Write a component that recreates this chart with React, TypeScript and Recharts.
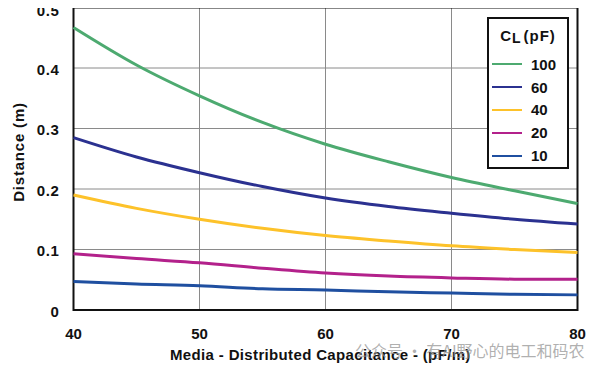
import {
  LineChart,
  Line,
  XAxis,
  YAxis,
  CartesianGrid,
  ReferenceArea,
} from "recharts";

// Media-distributed capacitance, pF/m
const CAPACITANCE = [40, 45, 50, 55, 60, 65, 70, 75, 80];

// Distance (m) for each load capacitance CL
const CL_100 = [0.467, 0.405, 0.354, 0.31, 0.274, 0.245, 0.219, 0.197, 0.176];
const CL_60 = [0.285, 0.253, 0.227, 0.204, 0.185, 0.171, 0.16, 0.15, 0.142];
const CL_40 = [0.19, 0.168, 0.15, 0.135, 0.123, 0.114, 0.106, 0.1, 0.095];
const CL_20 = [0.093, 0.085, 0.078, 0.069, 0.061, 0.056, 0.053, 0.051, 0.051];
const CL_10 = [0.047, 0.043, 0.04, 0.035, 0.033, 0.03, 0.028, 0.026, 0.025];

const X_TICKS = [40, 50, 60, 70, 80];
const Y_TICKS = [0, 0.1, 0.2, 0.3, 0.4, 0.5];

const SERIES = [
  { key: "cl100", name: "100", color: "#4DAA70", values: CL_100 },
  { key: "cl60", name: "60", color: "#2B3190", values: CL_60 },
  { key: "cl40", name: "40", color: "#FDC22A", values: CL_40 },
  { key: "cl20", name: "20", color: "#B3218B", values: CL_20 },
  { key: "cl10", name: "10", color: "#1F4FA0", values: CL_10 },
];

const data = CAPACITANCE.map((c, i) => {
  const row: Record<string, number> = { c };
  SERIES.forEach((s) => {
    row[s.key] = s.values[i];
  });
  return row;
});

const FONT = "'Liberation Sans', Arial, sans-serif";

function YTick({ x, y, payload }: { x?: number; y?: number; payload?: { value: number } }) {
  const v = payload?.value ?? 0;
  return (
    <text
      x={x}
      y={(y ?? 0) + 1.5}
      dy="0.355em"
      textAnchor="end"
      fontSize={15}
      fontWeight={700}
      fill="#111"
      fontFamily={FONT}
      style={{ letterSpacing: 0.6 }}
    >
      {v === 0 ? "0" : v.toFixed(1)}
    </text>
  );
}

function CapLegend() {
  return (
    <div
      style={{
        position: "absolute",
        left: 487,
        top: 17,
        width: 82,
        height: 152,
        border: "2px solid #111",
        background: "#fff",
        boxSizing: "border-box",
        fontFamily: FONT,
        fontWeight: 700,
        color: "#111",
        paddingTop: 8,
      }}
    >
      <div style={{ fontSize: 15, textAlign: "center", letterSpacing: 1, marginBottom: 9 }}>
        C<span style={{ fontSize: 14, position: "relative", top: 2 }}>L</span>
        <span style={{ marginLeft: 2 }}>(pF)</span>
      </div>
      {SERIES.map((s) => (
        <div
          key={s.key}
          style={{ display: "flex", alignItems: "center", height: 22.8, fontSize: 15 }}
        >
          <span
            style={{
              display: "inline-block",
              width: 30,
              height: 2,
              marginLeft: 3,
              marginRight: 9,
              background: s.color,
            }}
          />
          <span>{s.name}</span>
        </div>
      ))}
    </div>
  );
}

export default function App() {
  return (
    <div style={{ position: "relative", width: 605, height: 375, margin: -8, background: "#fff" }}>
      <LineChart
        width={605}
        height={375}
        data={data}
        margin={{ top: 7.5, right: 27.5, left: 13.5, bottom: 35 }}
      >
        <CartesianGrid stroke="#8a8a8a" strokeWidth={1} />
        <XAxis
          dataKey="c"
          type="number"
          domain={[40, 80]}
          ticks={X_TICKS}
          axisLine={false}
          tickLine={false}
          height={30}
          tickMargin={12}
          tick={{ fontSize: 15, fontWeight: 700, fill: "#111", fontFamily: FONT }}
        />
        <YAxis
          type="number"
          domain={[0, 0.5]}
          ticks={Y_TICKS}
          axisLine={false}
          tickLine={false}
          width={60}
          tickMargin={8}
          tick={<YTick />}
        />
        {SERIES.map((s) => (
          <Line
            key={s.key}
            dataKey={s.key}
            name={s.name}
            type="monotone"
            stroke={s.color}
            strokeWidth={3}
            dot={false}
            isAnimationActive={false}
          />
        ))}
        <ReferenceArea
          x1={40}
          x2={80}
          y1={0}
          y2={0.5}
          fill="none"
          stroke="#111"
          strokeWidth={2}
          ifOverflow="visible"
        />
      </LineChart>
      <CapLegend />
      <div
        style={{
          position: "absolute",
          left: 4,
          top: 152,
          transform: "translate(-50%, -50%) rotate(-90deg)",
          marginLeft: 14,
          whiteSpace: "nowrap",
          fontFamily: FONT,
          fontWeight: 700,
          fontSize: 15,
          letterSpacing: 0.8,
          color: "#111",
        }}
      >
        Distance (m)
      </div>
      <div
        style={{
          position: "absolute",
          left: 170,
          top: 346,
          whiteSpace: "nowrap",
          fontFamily: FONT,
          fontWeight: 700,
          fontSize: 15,
          letterSpacing: 0.35,
          color: "#111",
        }}
      >
        Media - Distributed Capacitance - (pF/m)
      </div>
      <div
        style={{
          position: "absolute",
          left: 355,
          top: 342,
          lineHeight: "16px",
          whiteSpace: "nowrap",
          fontFamily: "'Noto Sans CJK SC', sans-serif",
          fontSize: 16,
          color: "rgba(150,150,150,0.75)",
        }}
      >
        公众号 · 有AI野心的电工和码农
      </div>
    </div>
  );
}
